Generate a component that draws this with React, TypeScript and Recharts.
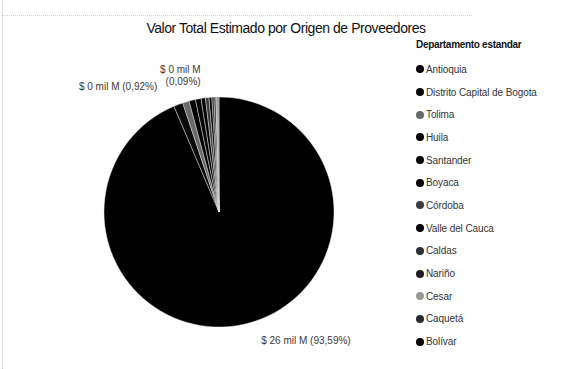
import React from 'react';
import { PieChart, Pie, Cell, Legend } from 'recharts';

const departamentos = [
  'Antioquia',
  'Distrito Capital de Bogota',
  'Tolima',
  'Huila',
  'Santander',
  'Boyaca',
  'Córdoba',
  'Valle del Cauca',
  'Caldas',
  'Nariño',
  'Cesar',
  'Caquetá',
  'Bolívar',
];

// Valor total estimado en miles de millones (mil M)
const valores = [26.0, 0.361, 0.2556, 0.25, 0.222, 0.167, 0.139, 0.111, 0.083, 0.069, 0.056, 0.042, 0.025];

const colores = ['#000000', '#0a0a0a', '#6a6a6a', '#000000', '#050505', '#000000', '#3c3c3c', '#000000', '#2e2e2e', '#1e1e1e', '#9a9a9a', '#2a2a2a', '#000000'];

const etiquetados = ['Antioquia', 'Tolima', 'Bolívar'];

const titulo = 'Valor Total Estimado por Origen de Proveedores';
const tituloLeyenda = 'Departamento estandar';

const total = valores.reduce((a, b) => a + b, 0);
const data = departamentos.map((name, i) => ({ name, value: valores[i], color: colores[i] }));

const RADIAN = Math.PI / 180;
const fmtPct = (v: number) => ((v / total) * 100).toFixed(2).replace('.', ',') + '%';
const fmtVal = (v: number) => `$ ${Math.round(v)} mil M`;

const renderLabel = (props: any) => {
  const { cx, cy, midAngle, outerRadius, name, value } = props;
  if (!etiquetados.includes(name)) return null;
  const r = outerRadius + 16;
  const x = cx + r * Math.cos(-midAngle * RADIAN);
  const y = cy + r * Math.sin(-midAngle * RADIAN);
  const style = { fontFamily: 'Liberation Sans, Arial, sans-serif', fontSize: 10, fill: '#3a3a3a' } as any;
  if (name === 'Antioquia') {
    return (
      <text x={x + 16} y={y + 4} textAnchor="start" {...style}>
        {`${fmtVal(value)} (${fmtPct(value)})`}
      </text>
    );
  }
  if (name === 'Bolívar') {
    return (
      <text x={x - 18} y={y - 8} textAnchor="end" {...style}>
        <tspan x={x - 18} dy={0}>{fmtVal(value)}</tspan>
        <tspan x={x - 18} dy={12}>{`(${fmtPct(value)})`}</tspan>
      </text>
    );
  }
  return (
    <text x={x - 24} y={y + 3} textAnchor="end" {...style}>
      {`${fmtVal(value)} (${fmtPct(value)})`}
    </text>
  );
};

const LegendContent = () => (
  <div style={{ fontFamily: 'Liberation Sans, Arial, sans-serif' }}>
    <div style={{ fontSize: 10, fontWeight: 'bold', color: '#111', height: 20, lineHeight: '14px', letterSpacing: -0.3 }}>
      {tituloLeyenda}
    </div>
    {data.map((d) => (
      <div key={d.name} style={{ display: 'flex', alignItems: 'center', height: 22.7, fontSize: 10, color: '#333' }}>
        <span
          style={{
            display: 'inline-block',
            width: 8,
            height: 8,
            borderRadius: '50%',
            background: d.color,
            marginRight: 2,
          }}
        />
        <span style={{ letterSpacing: -0.1 }}>{d.name}</span>
      </div>
    ))}
  </div>
);

export default function App() {
  return (
    <div style={{ position: 'absolute', left: 0, top: 0, width: 586, height: 369, background: '#fff' }}>
      <div style={{ position: 'absolute', left: 2, top: 0, width: 0, height: 369, borderLeft: '1px dotted #c8c8c8' }} />
      <div style={{ position: 'absolute', left: 2, top: 15, width: 470, height: 0, borderTop: '1px dotted #d0d0d0' }} />
      <PieChart width={586} height={369}>
        <text
          x={286}
          y={33}
          textAnchor="middle"
          style={{ fontFamily: 'Liberation Sans, Arial, sans-serif', fontSize: 14, fill: '#111', letterSpacing: -0.45 }}
        >
          {titulo}
        </text>
        <Pie
          data={data}
          dataKey="value"
          nameKey="name"
          cx={214}
          cy={207}
          outerRadius={115}
          startAngle={90}
          endAngle={-270}
          stroke="#e8e8e8"
          strokeWidth={0.45}
          label={renderLabel}
          labelLine={false}
          isAnimationActive={false}
        >
          {data.map((d) => (
            <Cell key={d.name} fill={d.color} />
          ))}
        </Pie>
        <Legend
          layout="vertical"
          align="right"
          verticalAlign="top"
          content={<LegendContent />}
          wrapperStyle={{ position: 'absolute', left: 416, top: 38, width: 170 }}
        />
      </PieChart>
    </div>
  );
}
